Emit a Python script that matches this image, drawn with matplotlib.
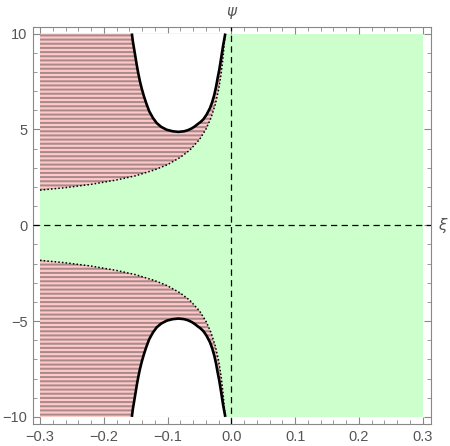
import numpy as np
import matplotlib
matplotlib.use("Agg")
import matplotlib.pyplot as plt
from matplotlib.ticker import MultipleLocator, FuncFormatter

# ---- data ----
# dotted boundary of the hatched region (upper half; lower half mirrored)
bound_xi = [-0.300, -0.260, -0.220, -0.180, -0.150, -0.120, -0.100, -0.080,
            -0.065, -0.050, -0.040, -0.032, -0.025, -0.020, -0.016, -0.013,
            -0.011, -0.010]
bound_psi = [1.83, 1.96, 2.13, 2.36, 2.58, 2.89, 3.16, 3.54,
             3.92, 4.47, 5.00, 5.59, 6.32, 7.07, 7.90, 8.77,
             9.53, 10.00]

# solid black U-shaped curve (upper half; lower half mirrored)
u_xi = [-0.1560, -0.1545, -0.1527, -0.1505, -0.1484, -0.1460, -0.1433,
        -0.1403, -0.1370, -0.1330, -0.1287, -0.1230, -0.1171, -0.1100,
        -0.1014, -0.0920, -0.0830, -0.0740, -0.0680, -0.0622, -0.0575,
        -0.0530, -0.0485, -0.0440, -0.0390, -0.0335, -0.0300, -0.0268,
        -0.0240, -0.0215, -0.0190, -0.0168, -0.0147, -0.0127, -0.0110,
        -0.0095]
u_psi = [10.00, 9.60, 9.24, 8.80, 8.37, 7.93, 7.50,
         7.10, 6.72, 6.32, 5.94, 5.60, 5.33, 5.13,
         4.98, 4.90, 4.87, 4.90, 4.96, 5.05, 5.15,
         5.27, 5.38, 5.52, 5.76, 6.11, 6.43, 6.80,
         7.22, 7.68, 8.10, 8.55, 9.00, 9.42, 9.72,
         10.00]

xi_range = [-0.3, 0.3]
psi_range = [-10.0, 10.0]
xticks = [-0.3, -0.2, -0.1, 0.0, 0.1, 0.2, 0.3]
yticks = [-10, -5, 0, 5, 10]

# ---- styling ----
green = "#ccffcc"
pink = "#ffc9c9"
stripe = "#a88a8a"
gray_txt = "#555555"
frame_col = "#888888"

plt.rcParams["hatch.linewidth"] = 1.45
plt.rcParams["font.family"] = ["Liberation Sans", "DejaVu Sans"]

fig = plt.figure(figsize=(4.5, 4.46), dpi=100)
ax = fig.add_axes([33 / 450, 1 - 424 / 446, (431 - 33) / 450, (424 - 27) / 446])

# green allowed region
ax.fill([xi_range[0], xi_range[1], xi_range[1], xi_range[0]],
        [psi_range[0], psi_range[0], psi_range[1], psi_range[1]],
        facecolor=green, edgecolor="none", lw=0, zorder=1)

bx = np.array(bound_xi)
bp = np.array(bound_psi)
ux = np.array(u_xi)
up = np.array(u_psi)

for s in (1, -1):
    # hatched region left of the boundary
    px = np.concatenate([bx, [xi_range[0]]])
    py = np.concatenate([s * bp, [s * psi_range[1]]])
    ax.fill(px, py, facecolor=pink, edgecolor=stripe, hatch="----", lw=0, zorder=2)
    # dotted boundary line
    ax.plot(bx, s * bp, color="black", lw=1.1, linestyle=(0, (1, 1.4)), zorder=3)
    # white excluded region inside the U
    ax.fill(ux, s * up, facecolor="white", edgecolor="none", lw=0, zorder=4)
    ax.plot(ux, s * up, color="black", lw=1.9, solid_capstyle="butt",
            solid_joinstyle="round", zorder=5)

# dashed axes
ax.axhline(0, color="black", lw=0.9, linestyle=(0, (5, 3.5)), zorder=6)
ax.axvline(0, color="black", lw=0.9, linestyle=(0, (5, 3.5)), zorder=6)

ax.set_xlim(-0.311, 0.313)
ax.set_ylim(-10.37, 10.34)

ax.set_xticks(xticks)
ax.set_yticks(yticks)
ax.xaxis.set_minor_locator(MultipleLocator(0.02))
ax.yaxis.set_minor_locator(MultipleLocator(1))
ax.xaxis.set_major_formatter(FuncFormatter(lambda v, p: f"{v:.1f}".replace("-", "\u2212")))
ax.yaxis.set_major_formatter(FuncFormatter(lambda v, p: f"{v:.0f}".replace("-", "\u2212")))
ax.tick_params(which="both", direction="in", top=True, right=True,
               color=frame_col, labelcolor=gray_txt, labelsize=10.5, pad=4)
ax.tick_params(which="major", length=5, width=0.8)
ax.tick_params(which="minor", length=3, width=0.6)
for sp in ax.spines.values():
    sp.set_color(frame_col)
    sp.set_linewidth(0.8)

ax.text(0.0, 1.02, "ψ", transform=ax.get_xaxis_transform(), ha="center",
        va="bottom", fontsize=11, style="italic", color=gray_txt,
        family=["DejaVu Sans"])
ax.text(1.018, 0.0, "ξ", transform=ax.get_yaxis_transform(), ha="left",
        va="center", fontsize=11, style="italic", color=gray_txt,
        family=["DejaVu Sans"])

fig.savefig("out.png", dpi=100)
